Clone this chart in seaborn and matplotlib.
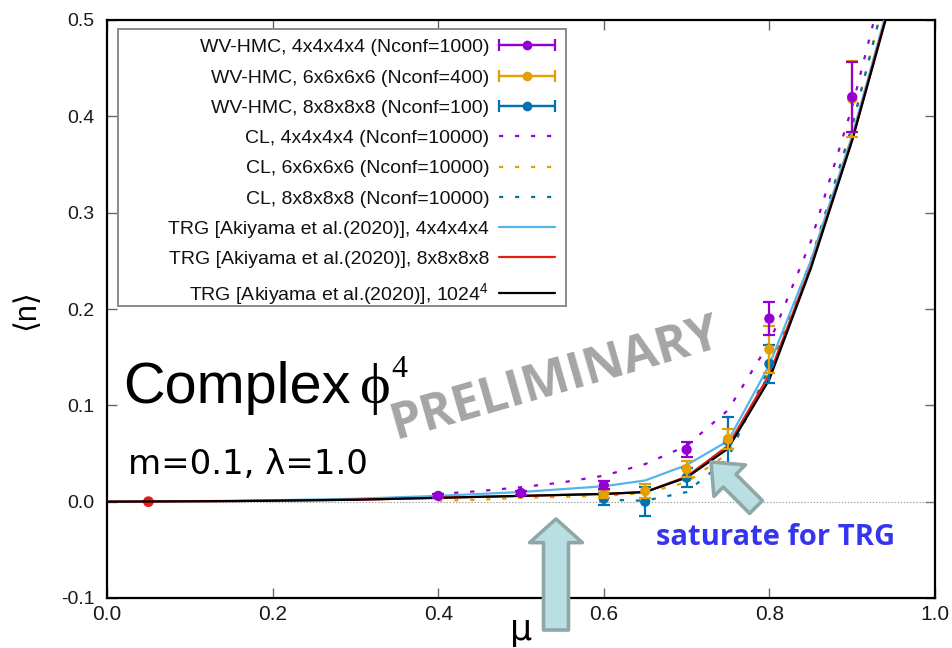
import matplotlib
matplotlib.use("Agg")
import matplotlib.pyplot as plt
from matplotlib import font_manager
from matplotlib.lines import Line2D
from matplotlib.legend_handler import HandlerLine2D, HandlerTuple
from matplotlib.patches import FancyArrowPatch, ArrowStyle, Rectangle
import numpy as np
import pandas as pd
import seaborn as sns

# ---------------- data ----------------
# WV-HMC measurements (mu, <n>, error)
hmc4_mu = [0.4, 0.5, 0.6, 0.7, 0.8, 0.9]
hmc4_n = [0.006, 0.009, 0.017, 0.054, 0.190, 0.420]
hmc4_err = [0.002, 0.002, 0.004, 0.008, 0.017, 0.036]

hmc6_mu = [0.6, 0.65, 0.7, 0.75, 0.8, 0.9]
hmc6_n = [0.008, 0.011, 0.034, 0.065, 0.158, 0.418]
hmc6_err = [0.004, 0.007, 0.008, 0.010, 0.024, 0.039]

hmc8_mu = [0.6, 0.65, 0.7, 0.75, 0.8]
hmc8_n = [0.003, 0.000, 0.025, 0.063, 0.143]
hmc8_err = [0.006, 0.015, 0.010, 0.025, 0.020]

# complex Langevin curves
cl_mu = [0.4, 0.45, 0.5, 0.55, 0.6, 0.65, 0.7, 0.75, 0.8, 0.85, 0.9, 0.95]
cl4_n = [0.008, 0.011, 0.015, 0.020, 0.027, 0.039, 0.058, 0.095, 0.165, 0.270, 0.410, 0.580]
cl6_n = [0.001, 0.002, 0.004, 0.005, 0.006, 0.009, 0.020, 0.050, 0.135, 0.250, 0.390, 0.560]
cl8_mu = [0.6, 0.65, 0.7, 0.75, 0.8, 0.85, 0.9, 0.95]
cl8_n = [0.002, 0.001, 0.010, 0.045, 0.140, 0.250, 0.390, 0.560]

# TRG curves
trg_mu = [0.0, 0.05, 0.1, 0.15, 0.2, 0.25, 0.3, 0.35, 0.4, 0.45, 0.5,
          0.55, 0.6, 0.65, 0.7, 0.75, 0.8, 0.85, 0.9, 0.95]
trg4_n = [0.0, 0.0002, 0.0005, 0.0009, 0.0015, 0.0022, 0.003, 0.0045, 0.006,
          0.008, 0.010, 0.013, 0.016, 0.022, 0.038, 0.063, 0.142, 0.250, 0.380, 0.535]
trg8_n = [0.0, 0.0002, 0.0004, 0.0006, 0.001, 0.0015, 0.002, 0.003, 0.004,
          0.005, 0.006, 0.007, 0.008, 0.010, 0.026, 0.058, 0.132, 0.244, 0.376, 0.532]
trg1024_n = [0.0, 0.0002, 0.0004, 0.0006, 0.001, 0.0015, 0.002, 0.003, 0.004,
             0.005, 0.006, 0.007, 0.008, 0.010, 0.025, 0.055, 0.127, 0.242, 0.375, 0.530]
trg8_pt_mu = [0.05]
trg8_pt_n = [0.0]

labels = [
    "WV-HMC, 4x4x4x4 (Nconf=1000)",
    "WV-HMC, 6x6x6x6 (Nconf=400)",
    "WV-HMC, 8x8x8x8 (Nconf=100)",
    "CL, 4x4x4x4 (Nconf=10000)",
    "CL, 6x6x6x6 (Nconf=10000)",
    "CL, 8x8x8x8 (Nconf=10000)",
    "TRG [Akiyama et al.(2020)], 4x4x4x4",
    "TRG [Akiyama et al.(2020)], 8x8x8x8",
    "TRG [Akiyama et al.(2020)], 1024$^4$",
]

x_ticks = [0.0, 0.2, 0.4, 0.6, 0.8, 1.0]
y_ticks = [-0.1, 0.0, 0.1, 0.2, 0.3, 0.4, 0.5]

# ---------------- style ----------------
PURPLE = "#9400d3"
ORANGE = "#e69f00"
BLUE = "#0072b2"
SKY = "#56b4e9"
RED = "#e51e10"
BLACK = "#000000"

sns.set_style("ticks")
plt.rcParams["font.family"] = ["Liberation Sans", "DejaVu Sans"]
plt.rcParams["mathtext.fontset"] = "custom"
plt.rcParams["mathtext.rm"] = "Liberation Sans"
plt.rcParams["mathtext.it"] = "Liberation Sans"

installed = {f.name for f in font_manager.fontManager.ttflist}
narrow = "Liberation Sans Narrow" if "Liberation Sans Narrow" in installed else "Liberation Sans"

W, H = 953, 648
fig = plt.figure(figsize=(W / 100, H / 100), dpi=100)


def fx(px):
    return px / W


def fy(py):
    return 1 - py / H


ax = fig.add_axes([fx(107), fy(598), fx(935) - fx(107), fy(20) - fy(598)])

# zero line
ax.axhline(0.0, color="#9a9a9a", lw=0.8, ls=(0, (1.2, 1.6)), zorder=1)

DOT = (0, (1.9, 5.3))

# WV-HMC points with error bars (smallest lattice drawn last, on top)
hmc_sets = [(hmc8_mu, hmc8_n, hmc8_err, BLUE),
            (hmc6_mu, hmc6_n, hmc6_err, ORANGE),
            (hmc4_mu, hmc4_n, hmc4_err, PURPLE)]
for k, (mu, n, err, c) in enumerate(hmc_sets):
    ax.errorbar(mu, n, yerr=err, fmt="none", ecolor=c, elinewidth=1.6,
                capsize=4.5, capthick=1.6, zorder=4 + k * 0.1)
    sns.scatterplot(x=mu, y=n, color=c, s=55, edgecolor="none", ax=ax, zorder=4.05 + k * 0.1)

# CL curves
sns.lineplot(x=cl_mu, y=cl4_n, color=PURPLE, lw=1.6, linestyle=DOT, ax=ax, zorder=3)
sns.lineplot(x=cl_mu, y=cl6_n, color=ORANGE, lw=1.6, linestyle=DOT, ax=ax, zorder=3)
sns.lineplot(x=cl8_mu, y=cl8_n, color=BLUE, lw=1.6, linestyle=DOT, ax=ax, zorder=3)

# TRG curves
sns.lineplot(x=trg_mu, y=trg4_n, color=SKY, lw=1.6, ax=ax, zorder=3)
sns.lineplot(x=trg_mu, y=trg8_n, color=RED, lw=1.6, ax=ax, zorder=3)
sns.scatterplot(x=trg8_pt_mu, y=trg8_pt_n, color=RED, s=60, edgecolor="none", ax=ax, zorder=3)
sns.lineplot(x=trg_mu, y=trg1024_n, color=BLACK, lw=1.6, ax=ax, zorder=3)

ax.set_xlim(0.0, 1.0)
ax.set_ylim(-0.1, 0.5)
ax.set_xticks(x_ticks)
ax.set_yticks(y_ticks)
ax.set_xticklabels([f"{v:.1f}" for v in x_ticks], fontsize=15, family=narrow)
ax.set_yticklabels([f"{v:.1f}" for v in y_ticks], fontsize=14)
ax.tick_params(direction="in", length=7, width=1, color="#666666",
               top=True, right=True, labelcolor="#1a1a1a")
ax.tick_params(axis="x", pad=5)
ax.tick_params(axis="y", pad=9)
for s in ax.spines.values():
    s.set_linewidth(1.6)
    s.set_color("black")
    s.set_visible(True)
ax.set_xlabel("")
ax.set_ylabel("")

# legend box (wider than its content, gnuplot style)
box = Rectangle((fx(118), fy(306)), fx(566) - fx(118), fy(29) - fy(306),
                transform=fig.transFigure, facecolor="white", edgecolor="#8a8a8a",
                linewidth=1.4, zorder=6, clip_on=False)
ax.add_patch(box)

handles = []
hmap = {}
for c in (PURPLE, ORANGE, BLUE):
    caps = Line2D([], [], color=c, lw=1.6, marker="|", markersize=9, markeredgewidth=1.6)
    dot = Line2D([], [], color=c, lw=1.6, marker="o", markersize=7, markeredgewidth=0)
    hmap[caps] = HandlerLine2D(numpoints=2, marker_pad=0)
    handles.append((caps, dot))
for c in (PURPLE, ORANGE, BLUE):
    handles.append(Line2D([], [], color=c, lw=1.6, linestyle=DOT))
for c in (SKY, RED, BLACK):
    handles.append(Line2D([], [], color=c, lw=1.6))
hmap[tuple] = HandlerTuple(ndivide=1)

leg = ax.legend(handles, labels, handler_map=hmap, loc="upper right",
                bbox_to_anchor=(fx(566), fy(28)), bbox_transform=fig.transFigure,
                markerfirst=False, frameon=False, fontsize=14,
                handlelength=2.9, handletextpad=0.5, labelspacing=0.65,
                borderpad=0.55, borderaxespad=0)
leg.set_zorder(7)
for t in leg.get_texts():
    t.set_color("#111111")

# axis labels
fig.text(fx(26), fy(310), "\u27e8n\u27e9", rotation=90, fontsize=22, color="black",
         ha="center", va="center", family=["Liberation Sans", "DejaVu Sans"])
fig.text(fx(521), fy(630), "\u03bc", fontsize=25, ha="center", va="center",
         color="black", family=["DejaVu Sans"])

# model annotations
fig.text(fx(123), fy(403), "Complex", fontsize=41.5, ha="left", va="baseline", color="black")
fig.text(fx(360), fy(403), "\u03d5", fontsize=42, ha="left", va="baseline", color="black",
         family=["Liberation Serif", "DejaVu Serif"])
fig.text(fx(391), fy(377), "4", fontsize=23, ha="left", va="baseline", color="black",
         family=["Liberation Serif", "DejaVu Serif"])
fig.text(fx(128), fy(474), "m=0.1, \u03bb=1.0", fontsize=24.5, ha="left", va="baseline",
         color="black", family=["DejaVu Sans"])

fig.text(fx(556), fy(380), "PRELIMINARY", fontsize=36, fontweight="bold",
         color="#a5a5a5", family=["Open Sans", "DejaVu Sans"], rotation=16,
         ha="center", va="center", rotation_mode="anchor")

fig.text(fx(776), fy(545), "saturate for TRG", fontsize=21, fontweight="bold",
         color="#3535f0", family=["Open Sans", "DejaVu Sans"], ha="center", va="baseline")

# highlight arrows
big = FancyArrowPatch((fx(556), fy(630)), (fx(556), fy(519)), transform=fig.transFigure,
                      arrowstyle=ArrowStyle.Simple(head_length=17, head_width=38, tail_width=18),
                      mutation_scale=1, shrinkA=0, shrinkB=0,
                      facecolor="#b9dfe2", edgecolor="#8fa7a9", linewidth=2.6, zorder=10)
fig.add_artist(big)
small = FancyArrowPatch((fx(756), fy(507)), (fx(711), fy(462)), transform=fig.transFigure,
                        arrowstyle=ArrowStyle.Simple(head_length=19, head_width=32, tail_width=13),
                        mutation_scale=1, shrinkA=0, shrinkB=0,
                        facecolor="#b9dfe2", edgecolor="#8fa7a9", linewidth=2.6, zorder=10)
fig.add_artist(small)

fig.savefig("out.png", dpi=100)
